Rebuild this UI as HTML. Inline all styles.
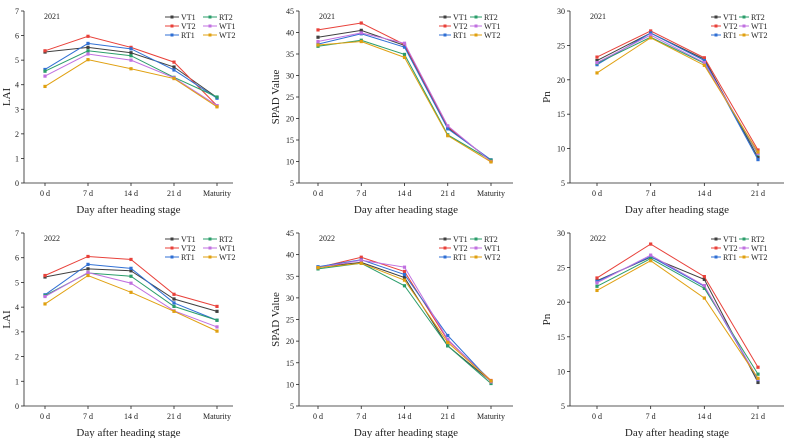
<!DOCTYPE html>
<html><head><meta charset="utf-8"><style>
html,body{margin:0;padding:0;background:#fff;}
svg{display:block;font-family:"Liberation Serif",serif;}
</style></head><body>
<svg id="c" width="788" height="438" viewBox="0 0 788 438"></svg>
<script>
const seriesNames=["VT1","VT2","RT1","RT2","WT1","WT2"];
const colors=["#404040","#e8413a","#2f6fd4","#2a9d6a","#c070e0","#e0a010"];
const catsA=["0 d","7 d","14 d","21 d","Maturity"];
const catsB=["0 d","7 d","14 d","21 d"];
const lai2021=[[5.33,5.52,5.3,4.72,3.48],[5.38,5.97,5.52,4.92,3.15],[4.62,5.68,5.46,4.6,3.45],[4.55,5.38,5.18,4.3,3.5],[4.35,5.25,5.0,4.28,3.15],[3.93,5.02,4.65,4.25,3.1]];
const lai2022=[[5.22,5.55,5.47,4.33,3.83],[5.28,6.05,5.93,4.52,4.03],[4.5,5.73,5.57,4.17,3.47],[4.47,5.38,5.25,4.03,3.47],[4.43,5.4,4.97,3.85,3.2],[4.13,5.28,4.6,3.83,3.03]];
const spad2021=[[38.9,40.5,37,17.9,10.2],[40.6,42.2,37.2,18.1,10.1],[37.3,39.7,36.6,17.6,10.4],[36.8,38.2,34.9,16.2,10.3],[37.9,39.9,37.5,18.3,10],[37.1,37.9,34.2,16,9.9]];
const spad2022=[[37.1,38.2,34.7,18.9,10.7],[37,39.4,36.1,20.2,10.9],[37.2,38.8,35.4,21.3,10.6],[36.7,38.0,32.8,18.9,10.2],[37,38.7,37.1,20.4,10.6],[37.0,38.0,34.1,19.7,10.8]];
const pn2021=[[22.8,26.8,23.0,8.7],[23.3,27.1,23.2,9.8],[22.2,26.8,22.8,8.4],[22.4,26.2,22.4,9.2],[22.5,26.5,22.5,9.3],[21.0,26.1,22.1,9.5]];
const pn2022=[[23.1,26.5,23.3,8.4],[23.5,28.4,23.7,10.6],[23.0,26.6,22.3,8.8],[22.3,26.3,22.0,9.6],[22.8,26.8,22.4,8.9],[21.7,26.0,20.6,9.0]];
const laiTicks=[0,1,2,3,4,5,6,7];
const spadTicks=[5,10,15,20,25,30,35,40,45];
const pnTicks=[5,10,15,20,25,30];

const svg=document.getElementById('c');
const NS='http://www.w3.org/2000/svg';
function mk(tag,attrs,parent){const e=document.createElementNS(NS,tag);for(const k in attrs)e.setAttribute(k,attrs[k]);(parent||svg).appendChild(e);return e;}

const panels=[
 {id:'lai-2021',data:lai2021,cats:catsA,ticks:laiTicks,title:'LAI',year:'2021',ax:24,right:233,c0:45,c1:217,top:11,bot:183,lx:165,dx:38,ll:14},
 {id:'spad-2021',data:spad2021,cats:catsA,ticks:spadTicks,title:'SPAD Value',year:'2021',ax:299,right:513,c0:318,c1:491,top:11,bot:183,lx:439,dx:31,ll:12},
 {id:'pn-2021',data:pn2021,cats:catsB,ticks:pnTicks,title:'Pn',year:'2021',ax:570,right:784,c0:597,c1:758,top:11,bot:183,lx:711,dx:28,ll:10},
 {id:'lai-2022',data:lai2022,cats:catsA,ticks:laiTicks,title:'LAI',year:'2022',ax:24,right:233,c0:45,c1:217,top:233,bot:406,lx:165,dx:38,ll:14},
 {id:'spad-2022',data:spad2022,cats:catsA,ticks:spadTicks,title:'SPAD Value',year:'2022',ax:299,right:513,c0:318,c1:491,top:233,bot:406,lx:439,dx:31,ll:12},
 {id:'pn-2022',data:pn2022,cats:catsB,ticks:pnTicks,title:'Pn',year:'2022',ax:570,right:784,c0:597,c1:758,top:233,bot:406,lx:711,dx:28,ll:10}
];

panels.forEach(p=>{
 const g=mk('g',{});
 
 
 const ymin=p.ticks[0],ymax=p.ticks[p.ticks.length-1];
 const y=v=>p.bot-(v-ymin)/(ymax-ymin)*(p.bot-p.top);
 const n=p.cats.length;
 const x=i=>p.c0+i*(p.c1-p.c0)/(n-1);
 const ya=mk('line',{x1:p.ax,y1:p.top,x2:p.ax,y2:p.bot,stroke:'#222','stroke-width':0.8},g);
 
 
 const xa=mk('line',{x1:p.ax,y1:p.bot,x2:p.right,y2:p.bot,stroke:'#222','stroke-width':0.8},g);
 
 
 p.ticks.forEach(t=>{
  mk('line',{x1:p.ax-3,y1:y(t),x2:p.ax,y2:y(t),stroke:'#222','stroke-width':0.8},g);
  const tl=mk('text',{x:p.ax-5,y:y(t)+3,'font-size':8,'text-anchor':'end',fill:'#222'},g);
  tl.textContent=t;
  
  
 });
 p.cats.forEach((c,i)=>{
  mk('line',{x1:x(i),y1:p.bot,x2:x(i),y2:p.bot+3,stroke:'#222','stroke-width':0.8},g);
  const tl=mk('text',{x:x(i),y:p.bot+13,'font-size':8,'text-anchor':'middle',fill:'#222'},g);
  tl.textContent=c;
  
  
 });
 const xt=mk('text',{x:(p.ax+p.right)/2,y:p.bot+30,'font-size':11,'text-anchor':'middle',fill:'#222'},g);
 xt.textContent='Day after heading stage';
 
 
 const ytx=p.ax-(p.title==='LAI'?14:20), ytm=(p.top+p.bot)/2;
 const yt=mk('text',{x:ytx,y:ytm,'font-size':11,'text-anchor':'middle',fill:'#222',transform:`rotate(-90 ${ytx} ${ytm})`},g);
 yt.textContent=p.title;
 
 
 const yr=mk('text',{x:p.ax+20,y:p.top+8,'font-size':8,fill:'#222'},g);
 yr.textContent=p.year;
 
 
 p.data.forEach((vals,s)=>{
  const pts=vals.map((v,i)=>x(i)+','+y(v)).join(' ');
  const pl=mk('polyline',{points:pts,fill:'none',stroke:colors[s],'stroke-width':1},g);
  
  
  vals.forEach((v,i)=>{
   const m=mk('rect',{x:x(i)-1.6,y:y(v)-1.6,width:3.2,height:3.2,fill:colors[s]},g);
   
   
  });
 });
 const order=[0,3,1,4,2,5];
 order.forEach((si,s)=>{
  const col=s%2, row=Math.floor(s/2);
  const bx=p.lx+col*p.dx, by=p.top+6+row*9;
  const lg=mk('g',{},g);
  
  
  mk('line',{x1:bx,y1:by,x2:bx+p.ll,y2:by,stroke:colors[si],'stroke-width':1},lg);
  mk('rect',{x:bx+p.ll/2-1.5,y:by-1.5,width:3,height:3,fill:colors[si]},lg);
  const t=mk('text',{x:bx+p.ll+2,y:by+3,'font-size':8,fill:'#222'},lg);
  t.textContent=seriesNames[si];
 });
});
</script>
</body></html>
